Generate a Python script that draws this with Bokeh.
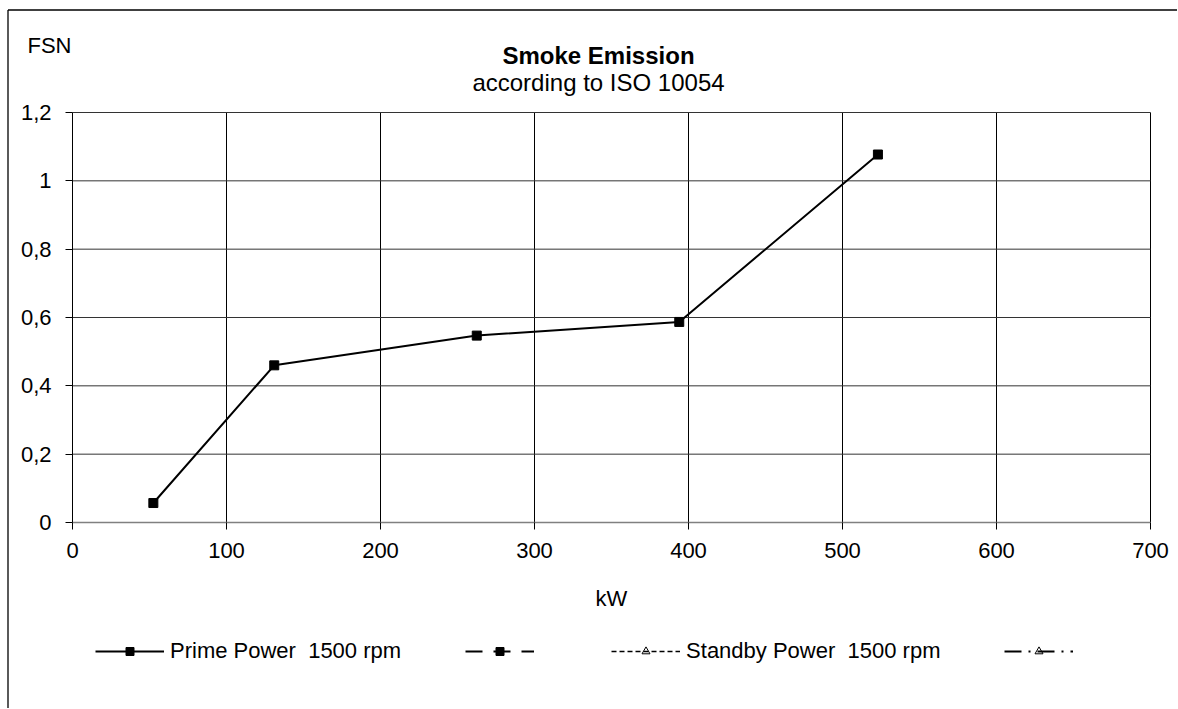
import math
from bokeh.plotting import figure
from bokeh.models import (FixedTicker, CustomJSTickFormatter, Label, Legend,
                          LegendItem, ColumnDataSource, Range1d, LinearAxis)
from bokeh.embed import file_html
from bokeh.resources import INLINE

# ---- data ----
kw_prime = [52.5, 131, 262.5, 394, 523]
fsn_prime = [0.057, 0.46, 0.547, 0.587, 1.077]
# the other three series of the legend carry no values in the chart
kw_standby = [math.nan]
fsn_standby = [math.nan]
x_ticks = [0, 100, 200, 300, 400, 500, 600, 700]
y_ticks = [0, 0.2, 0.4, 0.6, 0.8, 1.0, 1.2]
series_labels = ["Prime Power  1500 rpm", " ", "Standby Power  1500 rpm", " "]
title_text = "Smoke Emission"
subtitle_text = "according to ISO 10054"
x_label = "kW"
y_label = "FSN"

FONT = "Liberation Sans"

# ---- layout geometry (page pixels) ----
W, H = 1177, 708          # canvas size
OX, OY = 0, 0             # canvas origin on the page
PL, PR, PT, PB = 72, 1150, 112, 522   # plot box on the page
X0, X1 = x_ticks[0], x_ticks[-1]
Y0, Y1 = y_ticks[0], y_ticks[-1]
sx = (PR - PL) / (X1 - X0)
sy = (PB - PT) / (Y1 - Y0)
xr = Range1d(X0 - (PL - OX) / sx, X0 - (PL - OX) / sx + W / sx)
yr = Range1d(Y0 - (OY + H - PB) / sy, Y0 - (OY + H - PB) / sy + H / sy)

def scr_x(X):
    return X - OX

def scr_y(Y):
    return OY + H - Y

def dat_x(X):
    return xr.start + (X - OX) / sx

def dat_y(Y):
    return yr.end - (Y - OY) / sy

p = figure(width=W, height=H, output_backend="svg", toolbar_location=None,
           x_range=xr, y_range=yr, x_axis_type=None, y_axis_type=None,
           min_border=0, min_border_left=0, min_border_right=0,
           min_border_top=0, min_border_bottom=0)
p.outline_line_color = None
p.background_fill_color = "white"
p.border_fill_color = "white"

# chart-area border: left and top edges (right/bottom lie outside the picture)
p.segment(x0=[dat_x(7.5), dat_x(7.5)], y0=[dat_y(9.5), dat_y(9.5)],
          x1=[dat_x(7.5), dat_x(W + 40)], y1=[dat_y(H + 40), dat_y(9.5)],
          line_color="black", line_width=1.3)

# grid lines inside the plot box
p.segment(x0=x_ticks[1:], y0=Y0, x1=x_ticks[1:], y1=Y1, line_color="black",
          line_width=1)
p.segment(x0=X0, y0=y_ticks[1:], x1=X1, y1=y_ticks[1:], line_color="#333333",
          line_width=1)

# axes fixed at the data origin
xaxis = LinearAxis(fixed_location=Y0, bounds=(X0, X1),
                   ticker=FixedTicker(ticks=x_ticks))
yaxis = LinearAxis(fixed_location=X0, bounds=(Y0, Y1),
                   ticker=FixedTicker(ticks=y_ticks))
yaxis.formatter = CustomJSTickFormatter(
    code="var s = (Math.round(tick*10)/10).toString(); return s.replace('.', ',');")
for ax in (xaxis, yaxis):
    ax.major_label_text_font = FONT
    ax.major_label_text_font_size = "22px"
    ax.major_label_text_color = "black"
    ax.major_tick_out = 7
    ax.major_tick_in = 0
    ax.minor_tick_out = 0
    ax.minor_tick_in = 0
    ax.major_tick_line_color = "black"
xaxis.axis_line_color = "#808080"
xaxis.axis_line_width = 1.5
yaxis.axis_line_color = "black"
xaxis.major_label_standoff = 13
yaxis.major_label_standoff = 14
xaxis.axis_label = x_label
xaxis.axis_label_text_font = FONT
xaxis.axis_label_text_font_size = "22px"
xaxis.axis_label_text_font_style = "normal"
xaxis.axis_label_text_color = "black"
xaxis.axis_label_standoff = 25
p.add_layout(xaxis, "below")
p.add_layout(yaxis, "left")

# series
src_prime = ColumnDataSource(dict(x=kw_prime, y=fsn_prime))
src_standby = ColumnDataSource(dict(x=kw_standby, y=fsn_standby))

r1l = p.line("x", "y", source=src_prime, line_color="black", line_width=2)
r1m = p.scatter("x", "y", source=src_prime, marker="square", size=9,
                fill_color="black", line_color="black")

r2l = p.line("x", "y", source=src_standby, line_color="black", line_width=2,
             line_dash="17 11")
r2m = p.scatter("x", "y", source=src_standby, marker="square", size=8,
                fill_color="black", line_color="black")

r3l = p.line("x", "y", source=src_standby, line_color="black", line_width=1.3,
             line_dash="5 3")
r3m = p.scatter("x", "y", source=src_standby, marker="triangle", size=6,
                fill_color=None, line_color="black")

r4l = p.line("x", "y", source=src_standby, line_color="black", line_width=2,
             line_dash="17 7 2 7")
r4m = p.scatter("x", "y", source=src_standby, marker="triangle", size=6,
                fill_color=None, line_color="black")

items = [
    LegendItem(label=series_labels[0], renderers=[r1l, r1m]),
    LegendItem(label=series_labels[1], renderers=[r2l, r2m]),
    LegendItem(label=series_labels[2], renderers=[r3l, r3m]),
    LegendItem(label=series_labels[3], renderers=[r4l, r4m]),
]
legend = Legend(items=items, orientation="horizontal",
                location=(scr_x(95), scr_y(664)),
                padding=0, margin=0, spacing=64, glyph_width=69, glyph_height=20,
                label_standoff=6, label_width=7, label_text_font=FONT,
                label_text_font_size="22px", label_text_color="black",
                border_line_color=None, background_fill_alpha=0)
p.add_layout(legend)

# texts
def add_text(X, Y, txt, align, size, style="normal"):
    p.add_layout(Label(x=scr_x(X), y=scr_y(Y), x_units="screen", y_units="screen",
                       text=txt, text_align=align, text_baseline="alphabetic",
                       text_font=FONT, text_font_size=size,
                       text_font_style=style, text_color="black"))

add_text(27, 45, y_label, "left", "22px")
add_text(598, 55, title_text, "center", "24px", "bold")
add_text(598, 82, subtitle_text, "center", "24px")

open("out.html", "w").write(file_html(p, INLINE))
